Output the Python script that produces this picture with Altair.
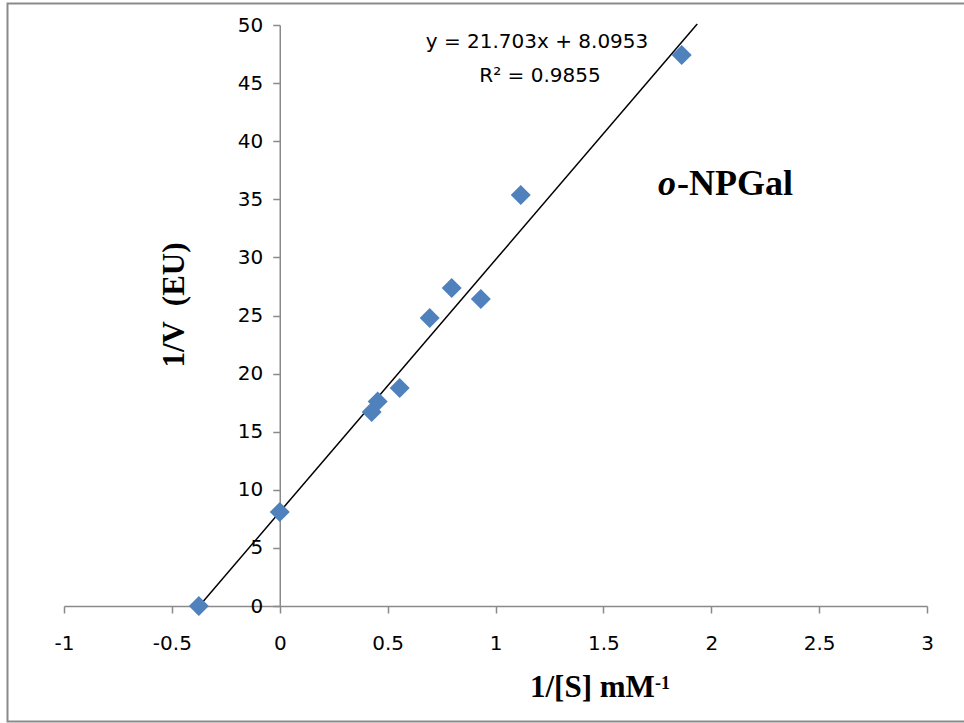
import altair as alt
import pandas as pd

# Data (Lineweaver-Burk plot)
inv_s = [-0.375, 0.0, 0.426, 0.454, 0.556, 0.695, 0.797, 0.932, 1.117, 1.863]
inv_v = [0.0, 8.09, 16.7, 17.6, 18.76, 24.78, 27.37, 26.42, 35.37, 47.42]

slope = 21.703
intercept = 8.0953
trend_x = [-0.373, 1.935]

x_ticks = [-1, -0.5, 0, 0.5, 1, 1.5, 2, 2.5, 3]
y_ticks = [0, 5, 10, 15, 20, 25, 30, 35, 40, 45, 50]

points = pd.DataFrame({"x": inv_s, "y": inv_v})
trend = pd.DataFrame({"x": trend_x, "y": [slope * v + intercept for v in trend_x]})

W, H = 863, 581
GRAY = "#8a8a8a"
TICK_FONT = "DejaVu Sans"
SERIF = "Liberation Serif"

x_scale = alt.Scale(domain=[-1, 3], nice=False, zero=False)
y_scale = alt.Scale(domain=[0, 50], nice=False, zero=False)

x_axis = alt.Axis(
    values=x_ticks, grid=False, tickSize=7, tickColor=GRAY, tickWidth=1.5,
    domainColor=GRAY, domainWidth=1.5, labelFont=TICK_FONT, labelFontSize=20,
    labelColor="black", labelPadding=20, labelFlush=False, labelOverlap=False,
    format="~g",
    labelExpr="replace(datum.label, '\u2212', '-')", title=None,
)
y_axis = alt.Axis(
    values=y_ticks, grid=False, tickSize=7, tickColor=GRAY, tickWidth=1.5,
    domainColor=GRAY, domainWidth=1.5, labelFont=TICK_FONT, labelFontSize=20,
    labelColor="black", labelPadding=10, labelFlush=False, labelOverlap=False,
    offset=-W / 4, title=None,
)

base = alt.Chart(points)

pts = base.mark_point(shape="diamond", filled=True, size=400, color="#4F81BD", opacity=1).encode(
    x=alt.X("x:Q", scale=x_scale, axis=x_axis),
    y=alt.Y("y:Q", scale=y_scale, axis=y_axis),
)

line = alt.Chart(trend).mark_line(color="black", strokeWidth=1.5).encode(
    x=alt.X("x:Q", scale=x_scale),
    y=alt.Y("y:Q", scale=y_scale),
)

def label(text, x, y, **kw):
    return alt.Chart(pd.DataFrame({"t": [text]})).mark_text(**kw).encode(
        text="t:N", x=alt.value(x), y=alt.value(y)
    )

eq1 = label("y = 21.703x + 8.0953", 473, 23, font=TICK_FONT, fontSize=20, align="center", baseline="alphabetic", color="black")
eq2 = label("R\u00b2 = 0.9855", 476, 57, font=TICK_FONT, fontSize=20, align="center", baseline="alphabetic", color="black")

name_o = label("o", 612, 170, font=SERIF, fontSize=36, fontWeight="bold", fontStyle="italic", align="right", baseline="alphabetic", color="black")
name_rest = label("-NPGal", 613, 170, font=SERIF, fontSize=36, fontWeight="bold", align="left", baseline="alphabetic", color="black")

xt = label("1/[S] mM", 466, 672, font=SERIF, fontSize=31, fontWeight="bold", align="left", baseline="alphabetic", color="black")
xt_sup = label("-1", 591, 664, font=SERIF, fontSize=18, fontWeight="bold", align="left", baseline="alphabetic", color="black")

yt = label("1/V \u00a0(EU)", 111, 280, font=SERIF, fontSize=31, fontWeight="bold", align="center", baseline="middle", angle=270, color="black")

border = alt.Chart(pd.DataFrame({"a": [0]})).mark_rect(fill=None, stroke=GRAY, strokeWidth=2).encode(
    x=alt.value(-56.5), x2=alt.value(W + 60), y=alt.value(-21.5), y2=alt.value(696.5)
)

chart = alt.layer(border, line, pts, eq1, eq2, name_o, name_rest, xt, xt_sup, yt).properties(
    width=W, height=H,
    padding={"left": 64, "top": 25, "right": 37, "bottom": 117},
    autosize=alt.AutoSizeParams(type="none"),
    background="white",
    view=alt.ViewBackground(stroke="transparent"),
).configure_view(stroke="transparent")

chart.save("out.html", embed_options={"renderer": "svg", "actions": False})
